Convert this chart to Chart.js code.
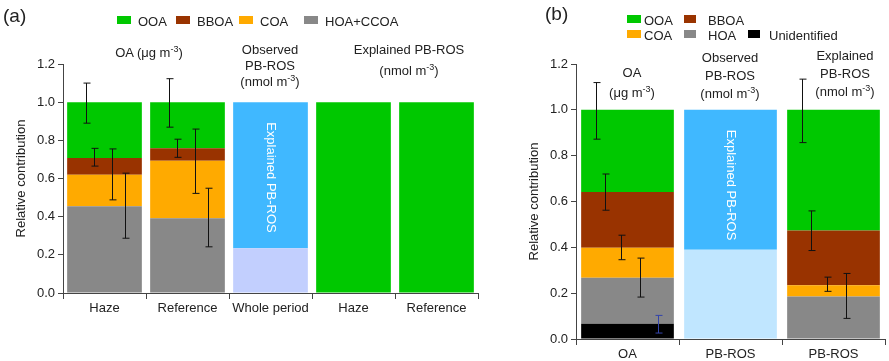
<!DOCTYPE html>
<html lang="en">
<head>
    <meta charset="UTF-8">
    <title>Relative contribution of OA factors and PB-ROS</title>
    <script src="https://cdn.jsdelivr.net/npm/chart.js"></script>
    <style>
        body {
            margin: 0;
            width: 889px;
            height: 361px;
            background: #fff;
            font-family: Arial, "Liberation Sans", sans-serif;
            color: #222;
            position: relative;
            overflow: hidden;
        }
        canvas { position: absolute; top: 0; }
        #cA { left: 0; }
        #cB { left: 490px; }
        .txt {
            position: absolute;
            font-size: 13px;
            text-align: center;
            white-space: nowrap;
            transform: translateX(-50%);
        }
        .txt sup { font-size: 9px; line-height: 0; vertical-align: 5px; }
        .panel { position: absolute; font-size: 19px; }
        .leg { position: absolute; font-size: 13px; line-height: 14px; white-space: nowrap; }
        .leg i {
            display: inline-block;
            width: 14px;
            height: 8px;
            margin-right: 7px;
            vertical-align: 2px;
        }
    </style>
</head>
<body>
    <canvas id="cA" width="480" height="361"></canvas>
    <canvas id="cB" width="399" height="361"></canvas>

    <div class="panel" style="left:3px; top:5px;">(a)</div>
    <div class="panel" style="left:545px; top:3px;">(b)</div>

    <!-- legendas -->
    <div class="leg" style="left:117px; top:15px;"><i style="background:#00c800"></i>OOA</div>
    <div class="leg" style="left:176px; top:15px;"><i style="background:#993300"></i>BBOA</div>
    <div class="leg" style="left:239px; top:15px;"><i style="background:#ffaa00"></i>COA</div>
    <div class="leg" style="left:304px; top:15px;"><i style="background:#888888"></i>HOA+CCOA</div>

    <div class="leg" style="left:627px; top:14px;"><i style="background:#00c800; margin-right:3px"></i>OOA</div>
    <div class="leg" style="left:684px; top:14px;"><i style="background:#993300; width:12px; margin-right:12px"></i>BBOA</div>
    <div class="leg" style="left:627px; top:29px;"><i style="background:#ffaa00; margin-right:3px"></i>COA</div>
    <div class="leg" style="left:684px; top:29px;"><i style="background:#888888; width:12px; margin-right:12px"></i>HOA</div>
    <div class="leg" style="left:748px; top:29px;"><i style="background:#000; width:12px; margin-right:9px"></i>Unidentified</div>

    <!-- rótulos sobre as barras -->
    <div class="txt" style="left:149px; top:45px;">OA (μg m<sup>-3</sup>)</div>
    <div class="txt" style="left:270px; top:42px; line-height:16px;">Observed<br>PB-ROS<br>(nmol m<sup>-3</sup>)</div>
    <div class="txt" style="left:409px; top:39px; line-height:21px;">Explained PB-ROS<br>(nmol m<sup>-3</sup>)</div>

    <div class="txt" style="left:632px; top:63px; line-height:20px;">OA<br>(μg m<sup>-3</sup>)</div>
    <div class="txt" style="left:730px; top:49px; line-height:18px;">Observed<br>PB-ROS<br>(nmol m<sup>-3</sup>)</div>
    <div class="txt" style="left:845px; top:47px; line-height:18px;">Explained<br>PB-ROS<br>(nmol m<sup>-3</sup>)</div>

    <script>
        // ---- painel (a) ----
        const catsA = ['Haze', 'Reference', 'Whole period', 'Haze', 'Reference'];
        const hoaA = [0.455, 0.392, null, null, null];
        const coaA = [0.164, 0.301, null, null, null];
        const bboaA = [0.088, 0.065, null, null, null];
        const ooaA = [0.293, 0.242, null, 1.0, 1.0];
        const rosRestA = [null, null, 0.234, null, null];
        const rosExplA = [null, null, 0.766, null, null];

        const ooaErrA = [[0.89, 1.10], [0.869, 1.123], null, null, null];
        const bboaErrA = [[0.665, 0.758], [0.711, 0.806], null, null, null];
        const coaErrA = [[0.488, 0.755], [0.522, 0.859], null, null, null];
        const hoaErrA = [[0.287, 0.628], [0.242, 0.549], null, null, null];

        // ---- painel (b) ----
        const catsB = ['OA', 'PB-ROS', 'PB-ROS'];
        const unidB = [0.067, null, null];
        const hoaB = [0.200, null, 0.186];
        const coaB = [0.131, null, 0.049];
        const bboaB = [0.244, null, 0.239];
        const ooaB = [0.358, null, 0.526];
        const rosRestB = [null, 0.389, null];
        const rosExplB = [null, 0.611, null];

        const ooaErrB = [[0.872, 1.119], null, [0.857, 1.134]];
        const bboaErrB = [[0.562, 0.720], null, [0.386, 0.559]];
        const coaErrB = [[0.346, 0.453], null, [0.208, 0.270]];
        const hoaErrB = [[0.183, 0.353], null, [0.090, 0.286]];
        const unidErrB = [[0.026, 0.103], null, null];

        const yTicks = [0, 0.2, 0.4, 0.6, 0.8, 1.0, 1.2];

        const FONT = 'Arial, "Liberation Sans", sans-serif';
        const COR = {
            ooa: '#00c800', bboa: '#993300', coa: '#ffaa00', hoa: '#888888',
            unid: '#000000', expl: '#40b8ff', restA: '#c2cffe', restB: '#c0e6ff'
        };

        // barras de erro, desenhadas pelas escalas do gráfico
        const errBars = {
            id: 'errBars',
            afterDatasetsDraw(chart, args, opts) {
                const ctx = chart.ctx;
                const xs = chart.scales.x, ys = chart.scales.y;
                const n = chart.data.labels.length;
                const w = xs.width / n * 0.9;
                ctx.save();
                ctx.lineWidth = 1;
                opts.items.forEach(it => {
                    it.data.forEach((e, i) => {
                        if (!e) return;
                        const x = Math.round(xs.getPixelForValue(i) - w / 2 + it.frac * w) + 0.5;
                        const y0 = ys.getPixelForValue(e[0]);
                        const y1 = ys.getPixelForValue(e[1]);
                        ctx.strokeStyle = it.color || '#111';
                        ctx.beginPath();
                        ctx.moveTo(x, y0); ctx.lineTo(x, y1);
                        ctx.moveTo(x - 3, y0); ctx.lineTo(x + 4, y0);
                        ctx.moveTo(x - 3, y1); ctx.lineTo(x + 4, y1);
                        ctx.stroke();
                    });
                });
                ctx.restore();
            }
        };

        // texto vertical dentro da barra azul
        const rotLabel = {
            id: 'rotLabel',
            afterDatasetsDraw(chart, args, opts) {
                const meta = chart.getDatasetMeta(opts.dataset);
                const el = meta.data[opts.index];
                if (!el) return;
                const ctx = chart.ctx;
                ctx.save();
                ctx.translate(el.x, el.y + 20);
                ctx.rotate(Math.PI / 2);
                ctx.fillStyle = '#fff';
                ctx.font = '13px ' + FONT;
                ctx.textAlign = 'left';
                ctx.textBaseline = 'middle';
                ctx.fillText(opts.text, 0, 0);
                ctx.restore();
            }
        };

        function ds(label, data, color) {
            return {
                label, data, backgroundColor: color, borderWidth: 0,
                barPercentage: 0.9, categoryPercentage: 1.0
            };
        }

        function opcoes(yWidth, xHeight, pad, errItems, rot) {
            return {
                responsive: false,
                animation: false,
                layout: { padding: pad },
                plugins: {
                    legend: { display: false },
                    tooltip: { enabled: false },
                    errBars: { items: errItems },
                    rotLabel: rot
                },
                scales: {
                    x: {
                        stacked: true,
                        grid: { display: true, drawOnChartArea: false, drawTicks: true, tickLength: 6, color: '#444' },
                        border: { display: true, color: '#444', width: 1 },
                        ticks: { color: '#222', font: { size: 13, family: FONT }, padding: 2, maxRotation: 0, autoSkip: false },
                        afterFit: s => { s.height = xHeight; }
                    },
                    y: {
                        stacked: true,
                        min: 0, max: 1.2,
                        afterBuildTicks: s => { s.ticks = yTicks.map(v => ({ value: v })); },
                        grid: { display: true, drawOnChartArea: false, drawTicks: true, tickLength: 5, color: '#444' },
                        border: { display: true, color: '#444', width: 1 },
                        ticks: { color: '#222', font: { size: 13, family: FONT }, padding: 3, callback: v => v.toFixed(1) },
                        title: { display: true, text: 'Relative contribution', color: '#222', font: { size: 13, family: FONT }, padding: 0 },
                        afterFit: s => { s.width = yWidth; }
                    }
                }
            };
        }

        new Chart(document.getElementById('cA'), {
            type: 'bar',
            data: {
                labels: catsA,
                datasets: [
                    ds('HOA+CCOA', hoaA, COR.hoa),
                    ds('COA', coaA, COR.coa),
                    ds('BBOA', bboaA, COR.bboa),
                    ds('OOA', ooaA, COR.ooa),
                    ds('Unexplained', rosRestA, COR.restA),
                    ds('Explained PB-ROS', rosExplA, COR.expl)
                ]
            },
            options: opcoes(49, 68, { left: 14, right: 2, top: 64, bottom: 0 }, [
                { data: ooaErrA, frac: 0.25 },
                { data: bboaErrA, frac: 0.36 },
                { data: coaErrA, frac: 0.60 },
                { data: hoaErrA, frac: 0.77 }
            ], { dataset: 5, index: 2, text: 'Explained PB-ROS' }),
            plugins: [errBars, rotLabel]
        });

        new Chart(document.getElementById('cB'), {
            type: 'bar',
            data: {
                labels: catsB,
                datasets: [
                    ds('Unidentified', unidB, COR.unid),
                    ds('HOA', hoaB, COR.hoa),
                    ds('COA', coaB, COR.coa),
                    ds('BBOA', bboaB, COR.bboa),
                    ds('OOA', ooaB, COR.ooa),
                    ds('Unexplained', rosRestB, COR.restB),
                    ds('Explained PB-ROS', rosExplB, COR.expl)
                ]
            },
            options: opcoes(49, 22, { left: 37, right: 4, top: 64, bottom: 0 }, [
                { data: ooaErrB, frac: 0.16 },
                { data: bboaErrB, frac: 0.26 },
                { data: coaErrB, frac: 0.43 },
                { data: hoaErrB, frac: 0.63 },
                { data: unidErrB, frac: 0.83, color: '#3344aa' }
            ], { dataset: 6, index: 1, text: 'Explained PB-ROS' }),
            plugins: [errBars, rotLabel]
        });
    </script>
</body>
</html>
